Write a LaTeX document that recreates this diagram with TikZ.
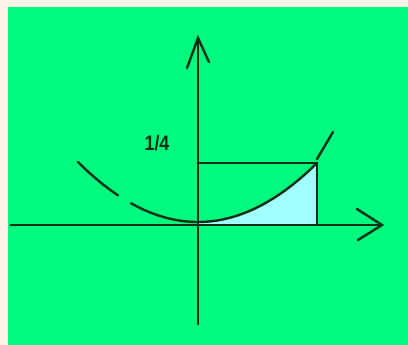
\documentclass[tikz,border=0pt]{standalone}
\usepackage{fontspec}
\setmainfont{Liberation Sans}
\definecolor{bgbeige}{RGB}{253,243,231}
\definecolor{springgr}{RGB}{0,250,125}
\definecolor{inkdark}{RGB}{12,48,24}
\definecolor{areacyan}{RGB}{160,255,255}
\tikzset{
  axisline/.style={draw=inkdark, line width=2.8pt},
  curveline/.style={draw=inkdark, line width=2.4pt, line cap=round},
  rectline/.style={draw=inkdark, line width=2.8pt},
  tiparm/.style={draw=inkdark, line width=2.4pt, line cap=round},
}
\begin{document}
\begin{tikzpicture}[x=1pt,y=-1pt]
\useasboundingbox (0,0) rectangle (408,345);
\fill[bgbeige] (0,0) rectangle (408,345);
\fill[springgr] (8,7) rectangle (408,345);
% named points
\coordinate (O) at (198,225);
\coordinate (xl) at (10,225);
\coordinate (xt) at (382,225);
\coordinate (xa1) at (357,209);
\coordinate (xa2) at (358,240);
\coordinate (yb) at (198,325);
\coordinate (yt) at (198,38);
\coordinate (ya1) at (187,68);
\coordinate (ya2) at (209,62);
\coordinate (R0) at (198,163);
\coordinate (R1) at (317,163);
\coordinate (R2) at (317,225);
\coordinate (E0) at (317,159);
\coordinate (E1) at (333,132);
% shaded area
\fill[areacyan] (O) -- plot[domain=0:119,samples=60] ({198+\x},{222-\x*\x/240}) -- (R2) -- cycle;
% parabola
\draw[curveline] plot[domain=-120:-80,samples=20] ({198+\x},{222-\x*\x/240});
\draw[curveline] plot[domain=-67:119,samples=80] ({198+\x},{222-\x*\x/240});
\draw[curveline] (E0) -- (E1);
% rectangle
\draw[rectline] (R0) -- (R1) -- (R2);
% axes
\draw[axisline] (xl) -- (xt);
\draw[tiparm] (xa1) -- (xt) -- (xa2);
\draw[axisline, line width=2.2pt] (yb) -- (yt);
\draw[tiparm] (ya1) -- (yt) -- (ya2);
% label
\node[text=inkdark, inner sep=0pt, xscale=0.85, font=\fontsize{21}{21}\selectfont\bfseries] (lbl) at (157,143) {1/4};
\end{tikzpicture}
\end{document}
